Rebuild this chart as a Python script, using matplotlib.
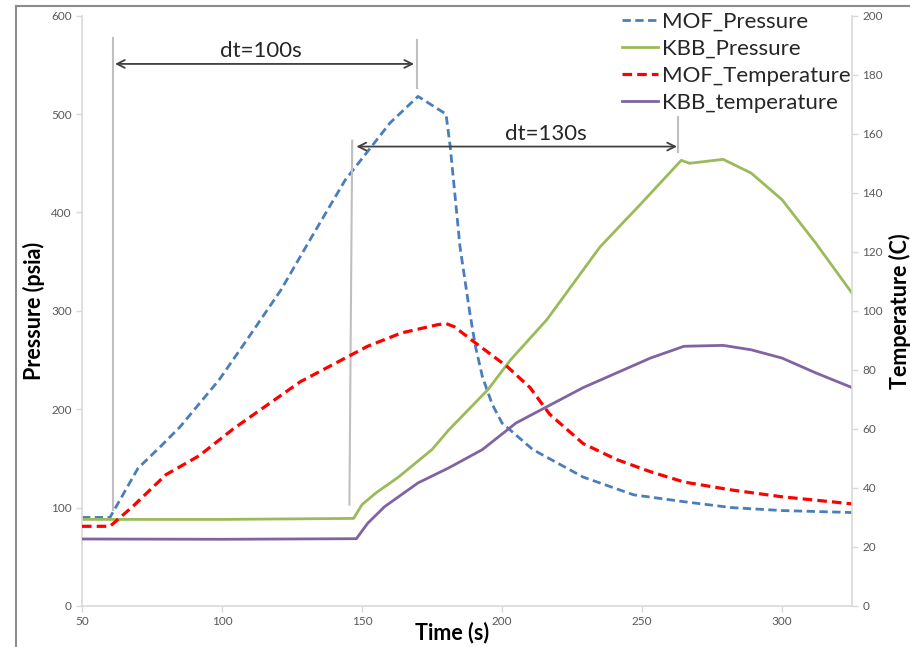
import numpy as np
import matplotlib.pyplot as plt
from matplotlib.lines import Line2D

plt.rcParams['font.family'] = ['Lato', 'DejaVu Sans']

# ---Data---
mof_p_t = [50, 60, 70, 78, 85, 99, 109, 121, 132, 144, 160, 170, 180,
           181.5, 185, 188.5, 190.5, 193, 196.5, 200, 211, 229, 247, 265, 282, 300, 325]
mof_p = [90, 90, 140, 162, 182, 230, 271, 321, 375, 433, 491, 518, 500,
         467, 365, 298, 264, 233, 205, 186, 159, 131, 113, 106, 100, 97, 95]

kbb_p_t = [50, 100, 147, 150, 155, 163, 175, 181, 195, 203, 216, 235, 250, 264,
           267, 279, 289, 300, 312, 325]
kbb_p = [88, 88, 89, 103, 115, 131, 159, 179, 220, 250, 291, 365, 410, 453,
         450, 454, 440, 413, 369, 318]

mof_temp_t = [50, 60, 68, 80, 92, 104, 116, 128, 140, 152, 164, 177, 180, 183,
              190, 202, 210, 217, 229, 241, 253, 265, 282, 300, 325]
mof_temp = [27, 27, 33.6, 44.5, 51, 60, 68, 76, 82, 88, 92.5, 95.3, 95.7, 94.6,
            89.5, 81, 74, 65, 55, 49.6, 45.5, 42, 39.3, 37, 34.6]

kbb_temp_t = [50, 100, 148, 152, 158, 170, 181, 193, 205, 217, 229, 241, 253,
              265, 279, 289, 300, 312, 325]
kbb_temp = [22.7, 22.6, 22.8, 28, 33.6, 41.7, 46.8, 53, 62, 68, 74, 79, 84,
            88, 88.3, 86.8, 84, 79, 74]

# ---Figure---
fig = plt.figure(figsize=(9.1, 6.47), dpi=100)
ax = fig.add_axes([0.0901, 0.0634, 0.8462, 0.9123])
ax2 = ax.twinx()

gray = '#595959'
spine = '#D9D9D9'

l1, = ax.plot(mof_p_t, mof_p, color='#4A7EBB', linestyle=(0, (3, 1.6)), lw=2)
l2, = ax.plot(kbb_p_t, kbb_p, color='#9BBB59', lw=2)
l3, = ax2.plot(mof_temp_t, mof_temp, color='#FF0000', linestyle=(0, (3, 1.6)), lw=2.3)
l4, = ax2.plot(kbb_temp_t, kbb_temp, color='#8064A2', lw=2)

ax.set_xlim(50, 325)
ax.set_ylim(0, 600)
ax2.set_ylim(0, 200)
ax.set_xticks(range(50, 301, 50))
ax.set_yticks(range(0, 601, 100))
ax2.set_yticks(range(0, 201, 20))

for a in (ax, ax2):
    for s in a.spines.values():
        s.set_visible(False)
    a.tick_params(labelsize=8.5, labelcolor=gray, color=spine, length=4, width=1)
ax.spines['left'].set_visible(True)
ax.spines['bottom'].set_visible(True)
ax2.spines['right'].set_visible(True)
for s in (ax.spines['left'], ax.spines['bottom'], ax2.spines['right']):
    s.set_color(spine)
    s.set_linewidth(1.2)

ax.set_xlabel('Time (s)', fontsize=15.5, fontweight='bold')
ax.xaxis.set_label_coords(0.481, -0.0457)
ax.xaxis.label.set_va('center')
ax.set_ylabel('Pressure (psia)', fontsize=15.5, fontweight='bold')
ax.yaxis.set_label_coords(-0.0623, 0.5)
ax.yaxis.label.set_va('center')
ax2.set_ylabel('Temperature (C)', fontsize=15.5, fontweight='bold')
ax2.yaxis.set_label_coords(1.0625, 0.5)
ax2.yaxis.label.set_va('center')

# annotation guide lines
vline = '#BFBFBF'
ax.plot([61, 61], [98, 577], color=vline, lw=1.5)
ax.plot([169.5, 169.5], [527, 575], color=vline, lw=1.5)
ax.plot([145.5, 146.5], [103, 473], color=vline, lw=1.5)
ax.plot([263, 263], [461, 497], color=vline, lw=1.5)

arrow = dict(arrowstyle='<->', color='#404040', lw=1.3, shrinkA=0, shrinkB=0,
             mutation_scale=14)
ax.annotate('', xy=(168.6, 551), xytext=(61.8, 551), arrowprops=arrow)
ax.annotate('', xy=(262.5, 467), xytext=(148, 467), arrowprops=arrow)
ax.text(114, 554, 'dt=100s', fontsize=16, ha='center', va='bottom', color='#262626')
ax.text(215.7, 470, 'dt=130s', fontsize=16, ha='center', va='bottom', color='#262626')

leg = ax.legend([l1, l2, l3, l4],
                ['MOF_Pressure', 'KBB_Pressure', 'MOF_Temperature', 'KBB_temperature'],
                loc='upper left', bbox_to_anchor=(0.690, 1.022), frameon=False,
                fontsize=16, handlelength=1.6, handletextpad=0.2, labelspacing=0.32,
                borderaxespad=0)
for t in leg.get_texts():
    t.set_color('#262626')

# outer frame (left and top edges)
fig.add_artist(Line2D([16 / 910, 16 / 910], [0, 1 - 6 / 647], color='#8C8C8C', lw=1.5))
fig.add_artist(Line2D([16 / 910, 1], [1 - 6 / 647, 1 - 6 / 647], color='#8C8C8C', lw=1.5))

fig.savefig('out.png', dpi=100)
